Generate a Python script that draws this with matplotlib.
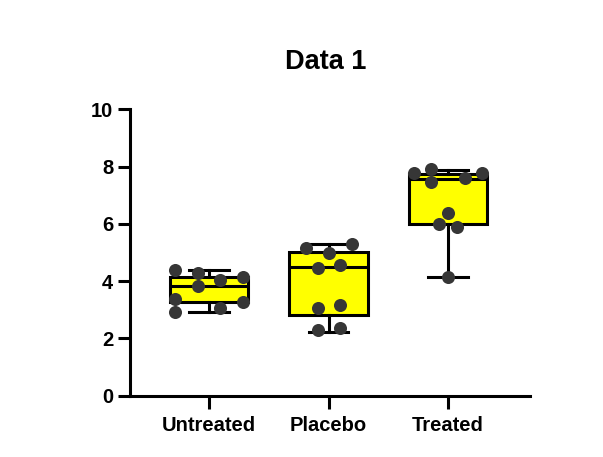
import numpy as np
import matplotlib
matplotlib.use("Agg")
import matplotlib.pyplot as plt

# --- Data ---
groups = ["Untreated", "Placebo", "Treated"]

untreated = [4.37, 4.27, 3.83, 4.03, 4.15, 3.37, 2.91, 3.05, 3.26]
placebo = [5.16, 4.97, 5.28, 4.47, 4.56, 3.07, 3.16, 2.29, 2.37]
treated = [7.79, 7.90, 7.47, 7.59, 7.79, 6.39, 5.99, 5.90, 4.15]

# box summary (as drawn in the reference)
q1 = [3.26, 2.81, 5.99]
med = [3.83, 4.48, 7.56]
q3 = [4.15, 5.02, 7.74]
whislo = [2.91, 2.23, 4.15]
whishi = [4.39, 5.28, 7.88]

yticks = [0, 2, 4, 6, 8, 10]

# horizontal swarm offsets for each dot (layout only)
swarm = [
    [-0.285, -0.095, -0.095, 0.092, 0.287, -0.285, -0.285, 0.092, 0.287],
    [-0.19, 0.0, 0.2, -0.09, 0.1, -0.09, 0.1, -0.09, 0.1],
    [-0.285, -0.142, -0.142, 0.142, 0.287, 0.0, -0.073, 0.073, 0.0],
]

# --- Style ---
plt.rcParams['font.family'] = ['Liberation Sans', 'DejaVu Sans']
plt.rcParams['font.weight'] = 'bold'
LW = 2.2

fig = plt.figure(figsize=(6.03, 4.57), dpi=100)
ax = fig.add_axes([130 / 603, 1 - 395.5 / 457, 400 / 603, 286.2 / 457])

stats = []
for i in range(len(groups)):
    stats.append(dict(med=med[i], q1=q1[i], q3=q3[i],
                      whislo=whislo[i], whishi=whishi[i], fliers=[]))

positions = np.arange(len(groups))
ax.bxp(stats, positions=positions, widths=0.655, patch_artist=True,
       showfliers=False, capwidths=0.33,
       boxprops=dict(facecolor='#FFFF00', edgecolor='black', linewidth=LW),
       medianprops=dict(color='black', linewidth=LW),
       whiskerprops=dict(color='black', linewidth=LW),
       capprops=dict(color='black', linewidth=LW),
       zorder=2)

# dots on top of the boxes
for i, vals in enumerate([untreated, placebo, treated]):
    xs = positions[i] + np.array(swarm[i])
    ax.plot(xs, vals, 'o', color='#363636', markersize=9.4,
            markeredgewidth=0, zorder=3)

ax.set_xlim(-0.661, 2.686)
ax.set_ylim(0, 10)
ax.set_yticks(yticks)
ax.set_xticks(positions)
ax.set_xticklabels(groups)

for side in ['top', 'right']:
    ax.spines[side].set_visible(False)
for side in ['left', 'bottom']:
    ax.spines[side].set_linewidth(LW)

ax.tick_params(axis='both', width=LW, length=9, labelsize=14.5, colors='black')
ax.tick_params(axis='y', pad=3)
ax.tick_params(axis='x', pad=6)
for lab in ax.get_xticklabels() + ax.get_yticklabels():
    lab.set_fontweight('bold')

ax.set_title("Data 1", fontsize=19.5, fontweight='bold', pad=29, x=0.489)

fig.savefig("out.png", dpi=100)
